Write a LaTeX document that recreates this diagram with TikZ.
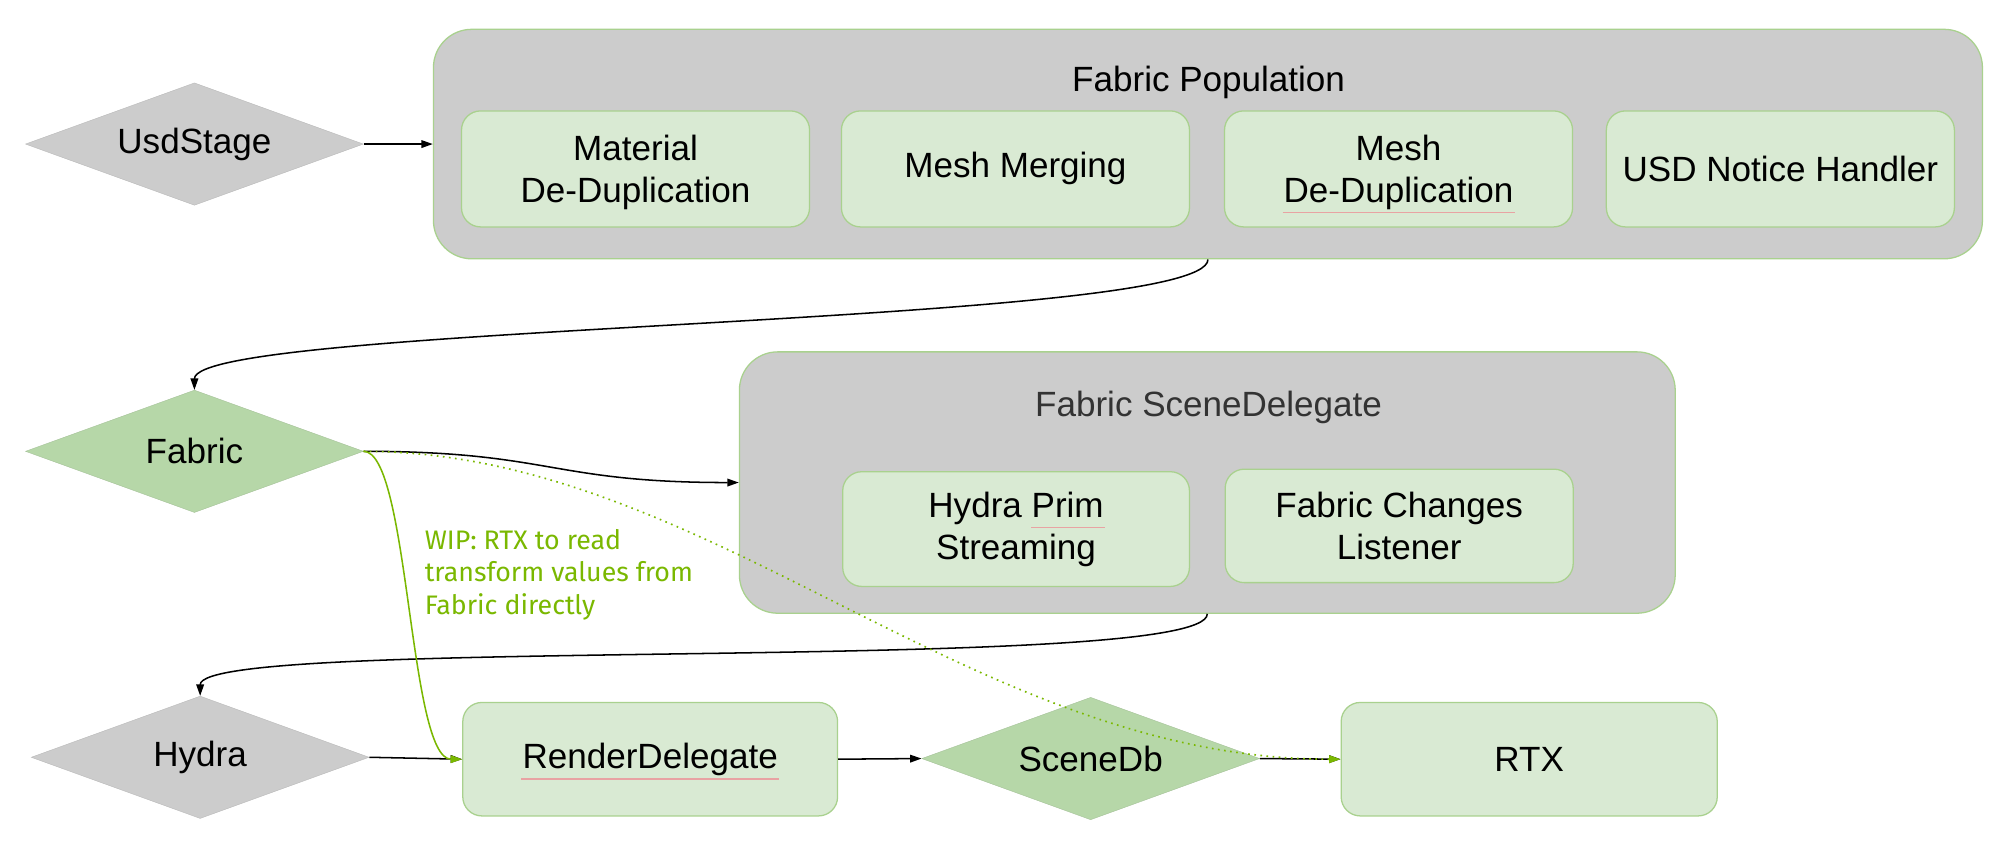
\documentclass[tikz,border=0pt]{standalone}
\usepackage{fontspec}
\setmainfont{Liberation Sans}
\newfontfamily\labelfont{Fira Sans}
\usetikzlibrary{shapes.geometric,arrows.meta}
\definecolor{boxgrey}{HTML}{CCCCCC}
\definecolor{lightgreen}{HTML}{D9EAD3}
\definecolor{midgreen}{HTML}{B6D7A8}
\definecolor{bordergreen}{HTML}{A9D18E}
\definecolor{nvgreen}{HTML}{7AB800}
\definecolor{squiggle}{HTML}{E8A3A3}
\newcommand\topstrut{\rule{0pt}{26pt}}
\tikzset{
  mainfont/.style={font=\fontsize{27.5}{33}\selectfont},
  groupbox/.style={draw=bordergreen, line width=1pt, fill=boxgrey, rounded corners=30pt, inner sep=0pt},
  innerbox/.style={draw=bordergreen, line width=1pt, fill=lightgreen, rounded corners=15pt, inner sep=0pt, mainfont, align=center},
  decision/.style={diamond, aspect=2.76, inner sep=0pt, minimum width=265pt, minimum height=96pt, mainfont},
  greydec/.style={decision, fill=boxgrey, draw=boxgrey!90!black, line width=0.3pt},
  greendec/.style={decision, fill=midgreen, draw=midgreen!90!black, line width=0.3pt},
  conn/.style={draw=black, line width=1.2pt, -{Triangle[length=9pt,width=6pt]}},
  greenconn/.style={draw=nvgreen, line width=1.2pt, -{Triangle[length=9pt,width=6pt]}},
  dotconn/.style={draw=nvgreen, line width=1.3pt, dash pattern=on 1.3pt off 3.5pt, -{Triangle[length=9pt,width=6pt]}},
  squig/.style={draw=squiggle, line width=0.9pt}
}
\begin{document}
\begin{tikzpicture}[x=1pt,y=-1pt]
\useasboundingbox (0,0) rectangle (1568,661);
\fill[white] (0,0) rectangle (1568,661);

% Fabric Population group
\node[groupbox, minimum width=1215pt, minimum height=180pt] (fp) at (947.5,113) {};
\node[mainfont, anchor=base] (fptitle) at (948,72) {Fabric Population};
\node[innerbox, minimum width=273pt, minimum height=91pt] (matdd) at (498.5,132.5) {\topstrut Material\\De-Duplication};
\node[innerbox, minimum width=273pt, minimum height=91pt] (meshm) at (796.5,132.5) {Mesh Merging};
\node[innerbox, minimum width=273pt, minimum height=91pt] (meshdd) at (1097,132.5) {\topstrut Mesh\\De-Duplication};
\node[innerbox, minimum width=273pt, minimum height=91pt] (usdn) at (1396.5,132.5) {USD Notice Handler};

% Fabric SceneDelegate group
\node[groupbox, minimum width=734pt, minimum height=205pt] (sd) at (947,378.5) {};
\node[mainfont, anchor=base, text=black!80] (sdtitle) at (948,327) {Fabric SceneDelegate};
\node[innerbox, minimum width=272pt, minimum height=90pt] (hps) at (797,415) {Hydra Prim\\Streaming};
\node[innerbox, minimum width=273pt, minimum height=89pt] (fcl) at (1097.5,412.5) {Fabric Changes\\Listener};

% Diamonds
\node[greydec] (us) at (152.5,113) {UsdStage};
\node[greendec] (fab) at (152.5,354) {Fabric};
\node[greydec] (hy) at (157,594) {Hydra};
\node[greendec] (sdb) at (855.5,595) {SceneDb};

% Bottom boxes
\node[innerbox, minimum width=294pt, minimum height=89pt] (rd) at (510,595.5) {RenderDelegate};
\node[innerbox, minimum width=295pt, minimum height=89pt] (rtx) at (1199.5,595.5) {RTX};

% spell-check underlines
\draw[squig] (1006,166.5) -- (1188,166.5);
\draw[squig] (809,414) -- (867,414);
\draw[squig] (409,611) -- (611,611);

% Connectors
\draw[conn] (us.east) -- (fp.west);
\draw[conn] (fp.south) .. controls +(0,52) and +(0,-52) .. (fab.north);
\draw[conn] (fab.east) .. controls +(147,0) and +(-148,0) .. (sd.west);
\draw[conn] (sd.south) .. controls +(0,48) and +(0,-48) .. (hy.north);
\draw[conn] (hy.east) -- (rd.west);
\draw[conn] (rd.east) -- (sdb.west);
\draw[conn] (sdb.east) -- (rtx.west);
\draw[greenconn] (fab.east) .. controls +(36,0) and +(-42,0) .. (rd.west);
\draw[dotconn] (fab.east) .. controls +(270,0) and +(-290,0) .. (rtx.west);

% Label
\node[anchor=north west, inner sep=0pt, align=left, text=nvgreen, font=\labelfont\fontsize{21}{25.5}\selectfont] (wip) at (333,415) {WIP: RTX to read\\transform values from\\Fabric directly};
\end{tikzpicture}
\end{document}
